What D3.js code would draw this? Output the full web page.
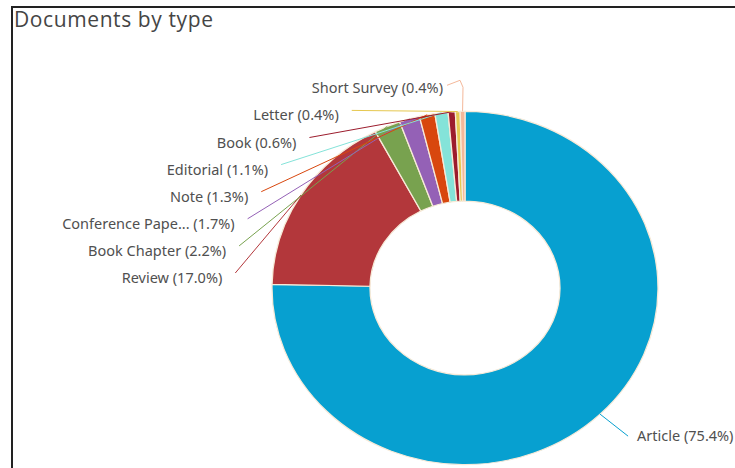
<!DOCTYPE html>
<html lang="en">
<head>
    <meta charset="UTF-8">
    <title>Documents by type</title>
    <script src="https://cdn.jsdelivr.net/npm/d3@7"></script>
    <style>
        body {
            margin: 0;
            background: #fff;
        }

        .title {
            font-family: "Open Sans", sans-serif;
            font-size: 21px;
            letter-spacing: 0.6px;
            fill: #454545;
        }

        .lbl {
            font-family: "Noto Sans", sans-serif;
            font-size: 14.5px;
            fill: #505050;
        }
    </style>
</head>
<body>
<script>
    var types = ["Article", "Review", "Book Chapter", "Conference Pape...", "Note", "Editorial", "Book", "Letter", "Short Survey"];
    var shares = [75.4, 17.0, 2.2, 1.7, 1.3, 1.1, 0.6, 0.4, 0.4];
    var colors = ["#07a0d0", "#b3373b", "#78a24f", "#9461b6", "#d8470e", "#84e3d9", "#9c1c2d", "#e6c850", "#f4b89a"];

    var width = 735;
    var height = 468;
    var cx = 465, cy = 288;
    var outerR = 193, innerR = 95;
    var sy = 0.915;   // picture is a little squashed vertically

    var svg = d3.select("body")
            .append("svg")
            .attr("width", width)
            .attr("height", height);

    // frame
    svg.append("path")
            .attr("d", "M12,468 L12,7 L735,7")
            .attr("fill", "none")
            .attr("stroke", "#222")
            .attr("stroke-width", 2);

    svg.append("text")
            .attr("class", "title")
            .attr("x", 14)
            .attr("y", 27)
            .text("Documents by type");

    var pie = d3.pie().sort(null).value(function (d) {
        return d;
    });
    var arcs = pie(shares);

    var arc = d3.arc().innerRadius(innerR).outerRadius(outerR);

    svg.append("g")
            .attr("transform", "translate(" + cx + "," + cy + ") scale(1," + sy + ")")
            .selectAll("path")
            .data(arcs)
            .enter()
            .append("path")
            .attr("d", arc)
            .attr("fill", function (d, i) {
                return colors[i];
            })
            .attr("stroke", "#f7ead8")
            .attr("stroke-width", 1.3);

    function outerPoint(d) {
        var a = (d.startAngle + d.endAngle) / 2;
        return [cx + outerR * Math.sin(a), cy - outerR * Math.cos(a) * sy];
    }

    // label layout: article on the right, the rest stacked on the left along an ellipse
    var labelA = 243, labelB = 202;
    var rowStep = 27.1;
    var labels = arcs.map(function (d, i) {
        var p = outerPoint(d);
        var txt = types[i] + " (" + d3.format(".1f")(shares[i]) + "%)";
        if (i === 0) {
            return {txt: txt, x: p[0] + 37, y: p[1] + 27, anchor: "start", pts: [p, [p[0] + 28, p[1] + 22]]};
        }
        var yc = 278 - (i - 1) * rowStep;
        var dy = (yc - cy) / labelB;
        var x = cx - labelA * Math.sqrt(Math.max(0, 1 - dy * dy));
        var y = yc + 5;
        if (i === arcs.length - 1) {
            x = cx - 22;
            return {txt: txt, x: x, y: y, anchor: "end",
                pts: [[x + 4, y - 8], [cx - 5, y - 13], [cx - 2, y - 6], p]};
        }
        return {txt: txt, x: x, y: y, anchor: "end", pts: [[x + 13, y - 10], p]};
    });

    svg.append("g")
            .selectAll("path")
            .data(labels)
            .enter()
            .append("path")
            .attr("d", function (d) {
                return d3.line()(d.pts);
            })
            .attr("fill", "none")
            .attr("stroke", function (d, i) {
                return colors[i];
            })
            .attr("stroke-width", 1);

    svg.append("g")
            .selectAll("text")
            .data(labels)
            .enter()
            .append("text")
            .attr("class", "lbl")
            .attr("x", function (d) {
                return d.x;
            })
            .attr("y", function (d) {
                return d.y;
            })
            .attr("text-anchor", function (d) {
                return d.anchor;
            })
            .text(function (d) {
                return d.txt;
            });
</script>
</body>
</html>
